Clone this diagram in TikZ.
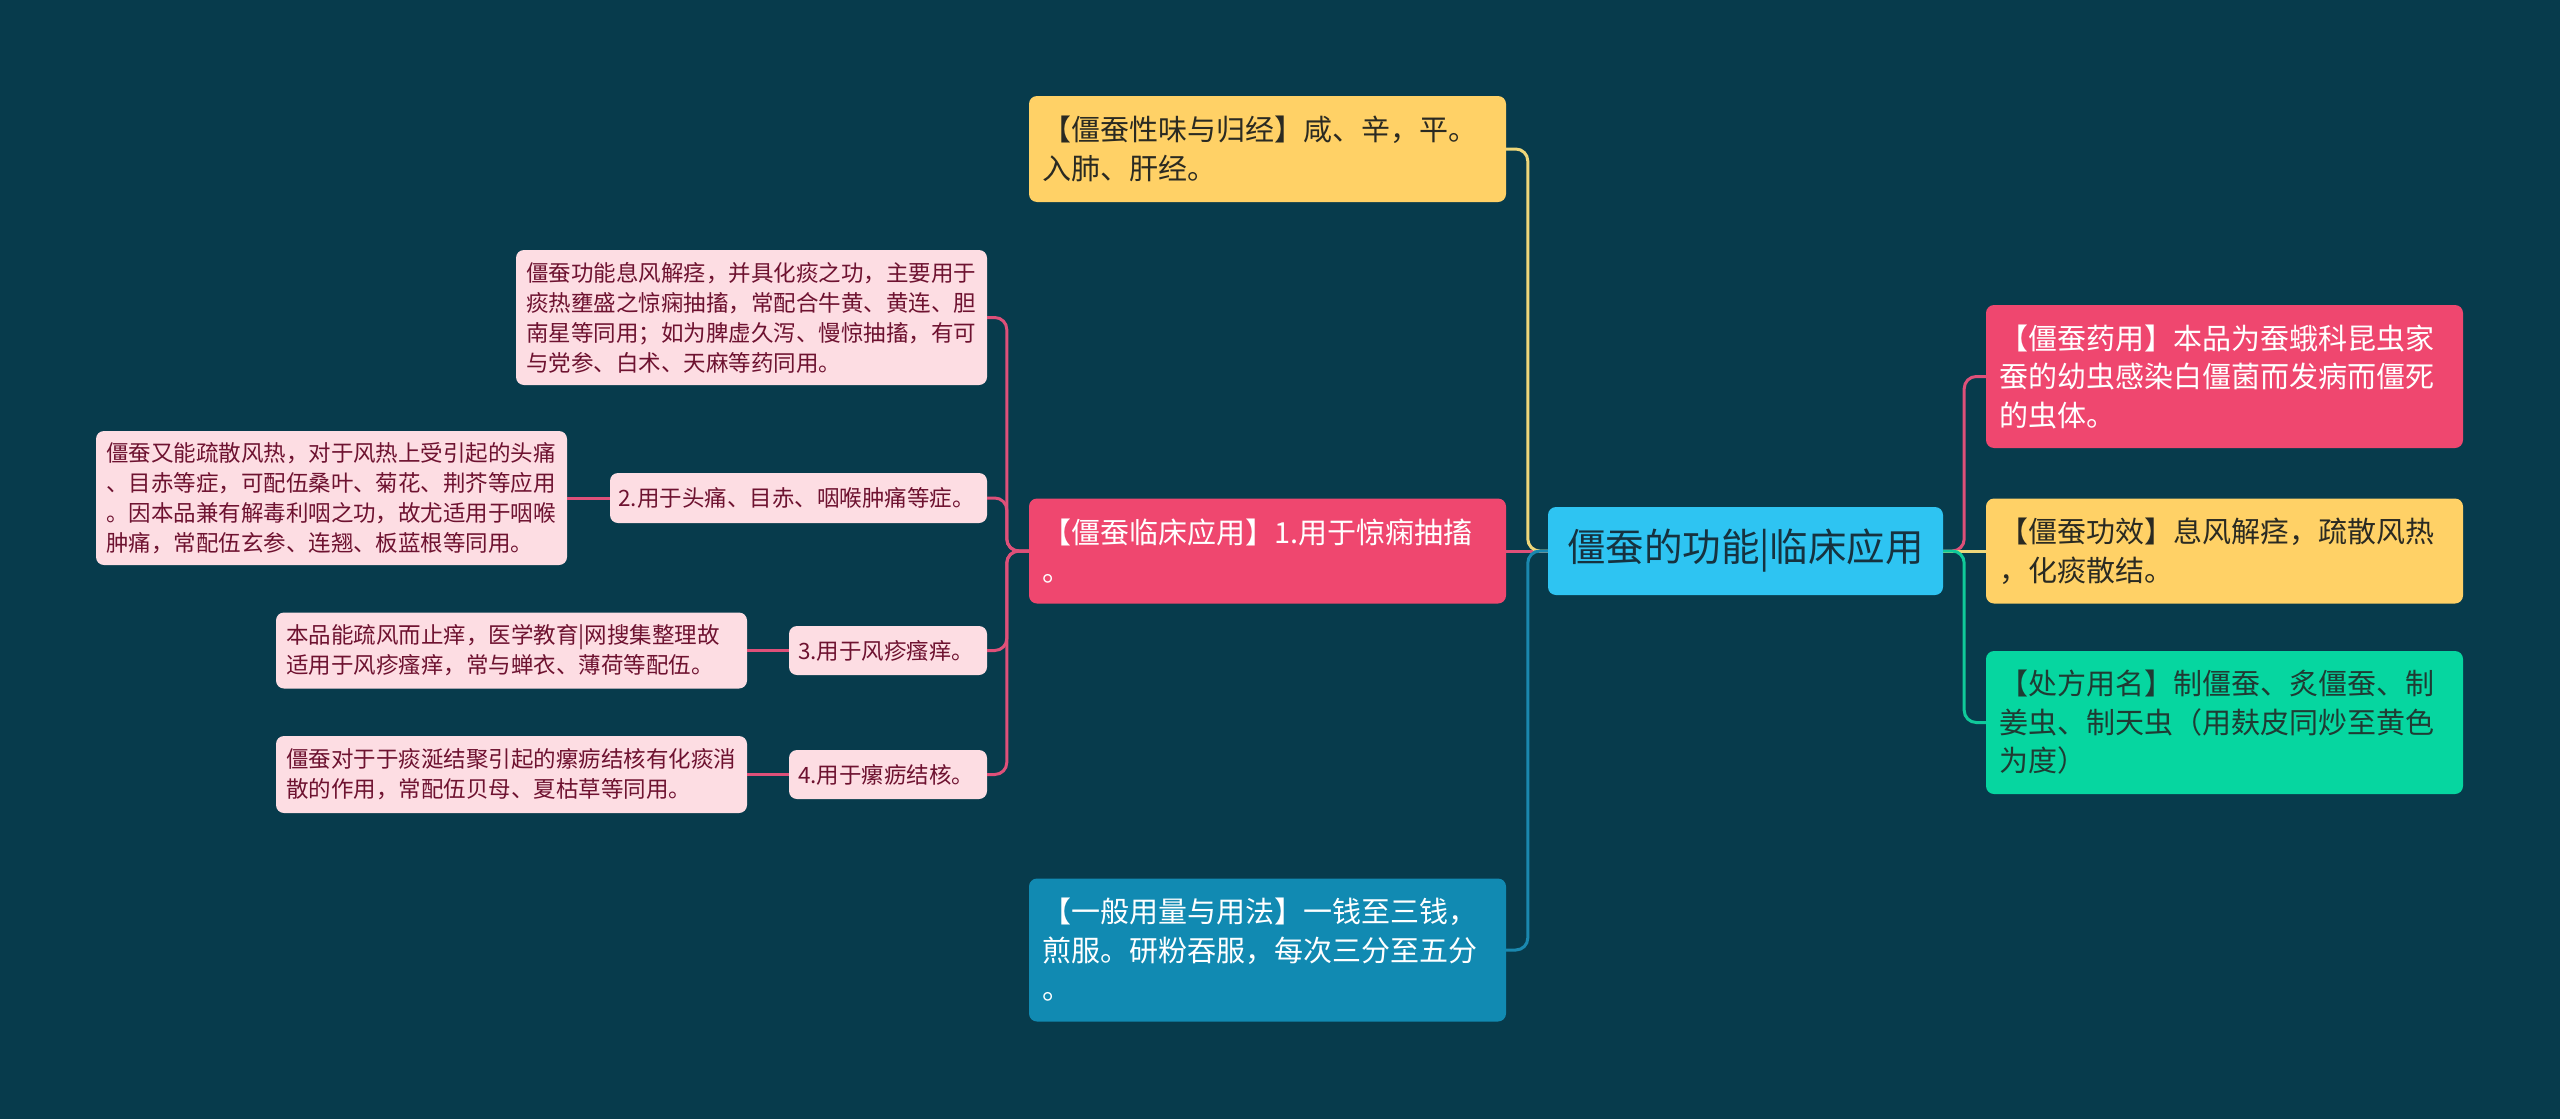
\documentclass[tikz,border=0pt]{standalone}
\usepackage{fontspec}
\setmainfont{Noto Sans CJK SC}
\definecolor{bg}{HTML}{073B4C}
\definecolor{cyel}{HTML}{FFD166}
\definecolor{cpink}{HTML}{EF476F}
\definecolor{cgreen}{HTML}{06D6A0}
\definecolor{cblue}{HTML}{118AB2}
\definecolor{croot}{HTML}{2EC4F2}
\definecolor{clight}{HTML}{FDDDE3}
\definecolor{cmaroon}{HTML}{6E1230}
\definecolor{cdark}{HTML}{2A2A22}
\definecolor{cdarkg}{HTML}{1F3B33}
\definecolor{crtext}{HTML}{16323F}
\definecolor{lyel}{HTML}{EED77A}
\definecolor{lpink}{HTML}{DE5079}
\definecolor{lblue}{HTML}{1A88AF}
\definecolor{lgreen}{HTML}{10C99A}
\begin{document}
\begin{tikzpicture}[x=1pt,y=-1pt,
  box/.style={rounded corners=8pt, inner ysep=0pt, align=left},
  big/.style={box, font=\fontsize{29}{38.5}\selectfont, text width=450pt, inner xsep=13.5pt, minimum width=477pt},
  small/.style={box, font=\fontsize{22.5}{30}\selectfont, fill=clight, text=cmaroon},
  link/.style={line width=3pt, rounded corners=12pt},
]
\fill[bg] (0,0) rectangle (2560,1119);
\useasboundingbox (0,0) rectangle (2560,1119);

% root
\node[box, fill=croot, text=crtext, font=\fontsize{38.5}{44}\selectfont, minimum width=395pt, minimum height=88pt, inner xsep=0pt, align=center] (root) at (1745.5,551) {僵蚕的功能|临床应用};

% left first level
\node[big, fill=cyel, text=cdark, minimum height=106pt] (n1) at (1267.5,149) {【僵蚕性味与归经】咸、辛，平。\\入肺、肝经。};
\node[big, fill=cpink, text=white, minimum height=105pt] (n2) at (1267.5,551) {【僵蚕临床应用】1.用于惊痫抽搐\\。};
\node[big, fill=cblue, text=white, minimum height=143pt] (n3) at (1267.5,950) {【一般用量与用法】一钱至三钱，\\煎服。研粉吞服，每次三分至五分\\。};

% right first level
\node[big, fill=cpink, text=white, minimum height=143pt] (n5) at (2224.5,376.5) {【僵蚕药用】本品为蚕蛾科昆虫家\\蚕的幼虫感染白僵菌而发病而僵死\\的虫体。};
\node[big, fill=cyel, text=cdark, minimum height=105pt] (n6) at (2224.5,551) {【僵蚕功效】息风解痉，疏散风热\\，化痰散结。};
\node[big, fill=cgreen, text=cdarkg, minimum height=143pt] (n7) at (2224.5,722.5) {【处方用名】制僵蚕、炙僵蚕、制\\姜虫、制天虫（用麸皮同炒至黄色\\为度）};

% second level
\node[small, text width=451pt, inner xsep=10pt, minimum height=135pt] (n8) at (751.5,317.5) {僵蚕功能息风解痉，并具化痰之功，主要用于\\痰热壅盛之惊痫抽搐，常配合牛黄、黄连、胆\\南星等同用；如为脾虚久泻、慢惊抽搐，有可\\与党参、白术、天麻等药同用。};
\node[small, text width=360pt, inner xsep=8.5pt, minimum height=50pt] (n9) at (798.5,498) {2.用于头痛、目赤、咽喉肿痛等症。};
\node[small, text width=180pt, inner xsep=9pt, minimum height=49pt] (n11) at (888,650.5) {3.用于风疹瘙痒。};
\node[small, text width=180pt, inner xsep=9pt, minimum height=49pt] (n13) at (888,774.5) {4.用于瘰疬结核。};

% third level
\node[small, text width=451pt, inner xsep=10pt, minimum height=134pt] (n10) at (331.5,498) {僵蚕又能疏散风热，对于风热上受引起的头痛\\、目赤等症，可配伍桑叶、菊花、荆芥等应用\\。因本品兼有解毒利咽之功，故尤适用于咽喉\\肿痛，常配伍玄参、连翘、板蓝根等同用。};
\node[small, text width=451pt, inner xsep=10pt, minimum height=76pt] (n12) at (511.5,650.5) {本品能疏风而止痒，医学教育|网搜集整理故\\适用于风疹瘙痒，常与蝉衣、薄荷等配伍。};
\node[small, text width=451pt, inner xsep=10pt, minimum height=77pt] (n14) at (511.5,774.5) {僵蚕对于于痰涎结聚引起的瘰疬结核有化痰消\\散的作用，常配伍贝母、夏枯草等同用。};

% connectors root -> left
\draw[link, lpink] (root.west) -- (n2.east);
\draw[link, lyel] (root.west) -- ++(-20,0) |- (n1.east);
\draw[link, lblue] (root.west) -- ++(-20,0) |- (n3.east);
% connectors root -> right
\draw[link, lpink] (root.east) -- ++(21,0) |- (n5.west);
\draw[link, lyel] (root.east) -- (n6.west);
\draw[link, lgreen] (root.east) -- ++(21,0) |- (n7.west);
% second level
\draw[link, lpink] (n2.west) -- ++(-22,0) |- (n8.east);
\draw[link, lpink] (n2.west) -- ++(-22,0) |- (n9.east);
\draw[link, lpink] (n2.west) -- ++(-22,0) |- (n11.east);
\draw[link, lpink] (n2.west) -- ++(-22,0) |- (n13.east);
% third level
\draw[link, lpink] (n9.west) -- (n10.east);
\draw[link, lpink] (n11.west) -- (n12.east);
\draw[link, lpink] (n13.west) -- (n14.east);
\end{tikzpicture}
\end{document}
